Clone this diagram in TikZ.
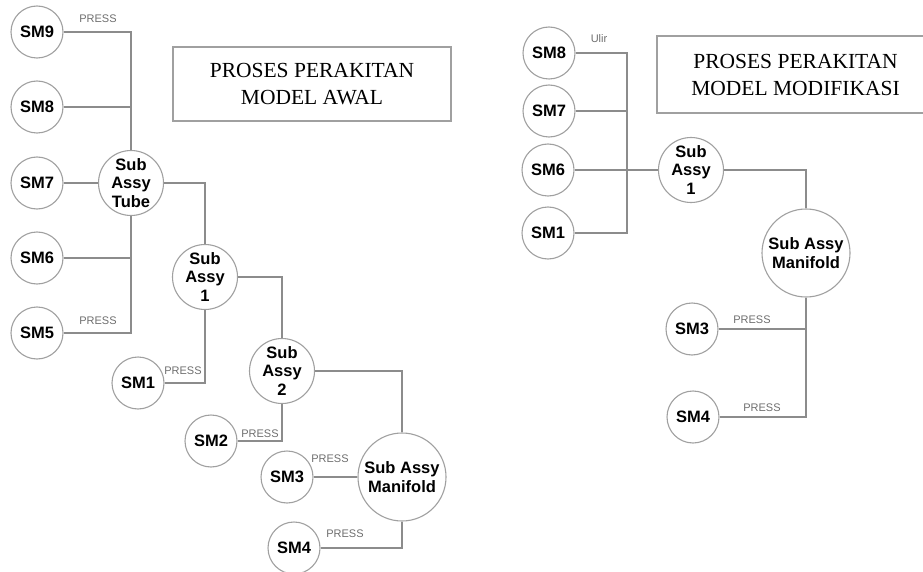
\documentclass[tikz,border=0pt]{standalone}
\usepackage{fontspec}
\setmainfont{Liberation Serif}
\newfontfamily\arialfont{Liberation Sans}
\definecolor{wiregray}{RGB}{140,140,140}
\definecolor{ringgray}{RGB}{160,160,160}
\definecolor{textgray}{RGB}{110,110,110}
\begin{document}
\begin{tikzpicture}[x=1pt, y=-1pt,
  part/.style={shape=circle, draw=ringgray, line width=1.1pt, fill=white, inner sep=0pt, minimum size=52pt, font=\fontsize{16.5}{18.5}\arialfont\bfseries, align=center},
  sub/.style={part, minimum size=65pt},
  manifold/.style={part, minimum size=88pt},
  wire/.style={draw=wiregray, line width=1.2pt},
  press/.style={font=\fontsize{11}{12}\arialfont, text=textgray, inner sep=0pt},
  titlebox/.style={draw=ringgray, line width=1.1pt, inner sep=0pt, align=center, font=\fontsize{21.5}{27}\selectfont}]
\path[use as bounding box] (0,0) rectangle (923,572);
\clip (0,0) rectangle (923,572);
% model awal
\node[titlebox, minimum width=278pt, minimum height=74pt] (TitleA) at (312,84) {PROSES PERAKITAN\\MODEL AWAL};
\node[part] (A9) at (37,32) {SM9};
\node[part] (A8) at (37,107) {SM8};
\node[part] (A7) at (37,183) {SM7};
\node[part] (A6) at (37,258) {SM6};
\node[part] (A5) at (37,333) {SM5};
\node[sub] (Tube) at (131,183) {Sub\\Assy\\Tube};
\node[sub] (A1sub) at (205,277) {Sub\\Assy\\1};
\node[part] (A1) at (138,383) {SM1};
\node[sub] (A2sub) at (282,371) {Sub\\Assy\\2};
\node[part] (A2) at (211,441) {SM2};
\node[manifold] (AMf) at (402,477) {Sub Assy\\Manifold};
\node[part] (A3) at (287,477) {SM3};
\node[part] (A4) at (294,548) {SM4};
\draw[wire] (A9.east) -| (Tube.north);
\draw[wire] (A8.east) -- (A8.east -| Tube.north);
\draw[wire] (A7) -- (Tube);
\draw[wire] (A6.east) -- (A6.east -| Tube.south);
\draw[wire] (A5.east) -| (Tube.south);
\draw[wire] (Tube.east) -| (A1sub.north);
\draw[wire] (A1.east) -| (A1sub.south);
\draw[wire] (A1sub.east) -| (A2sub.north);
\draw[wire] (A2.east) -| (A2sub.south);
\draw[wire] (A2sub.east) -| (AMf.north);
\draw[wire] (A3) -- (AMf);
\draw[wire] (A4.east) -| (AMf.south);
\node[press] (PA9) at (98,19) {PRESS};
\node[press] (PA5) at (98,321) {PRESS};
\node[press] (PA1) at (183,371) {PRESS};
\node[press] (PA2) at (260,434) {PRESS};
\node[press] (PA3) at (330,459) {PRESS};
\node[press] (PA4) at (345,534) {PRESS};
% model modifikasi
\node[titlebox, minimum width=277pt, minimum height=77pt] (TitleB) at (795.5,74.5) {PROSES PERAKITAN\\MODEL MODIFIKASI};
\node[part] (B8) at (549,53) {SM8};
\node[part] (B7) at (549,111) {SM7};
\node[part] (B6) at (548,170) {SM6};
\node[part] (B1) at (548,233) {SM1};
\coordinate (TrunkTop) at (627,53);
\coordinate (TrunkBot) at (627,233);
\node[sub] (B1sub) at (691,170) {Sub\\Assy\\1};
\node[manifold] (BMf) at (806,253) {Sub Assy\\Manifold};
\node[part] (B3) at (692,329) {SM3};
\node[part] (B4) at (693,417) {SM4};
\draw[wire] (B8.east) -- (TrunkTop) -- (TrunkBot) -- (B1.east);
\draw[wire] (B7.east) -- (B7.east -| TrunkTop);
\draw[wire] (B6) -- (B1sub);
\draw[wire] (B1sub.east) -| (BMf.north);
\draw[wire] (B3.east) -- (B3.east -| BMf.south);
\draw[wire] (B4.east) -| (BMf.south);
\node[press] (UB8) at (599,39) {Ulir};
\node[press] (PB3) at (752,320) {PRESS};
\node[press] (PB4) at (762,408) {PRESS};
\end{tikzpicture}
\end{document}
